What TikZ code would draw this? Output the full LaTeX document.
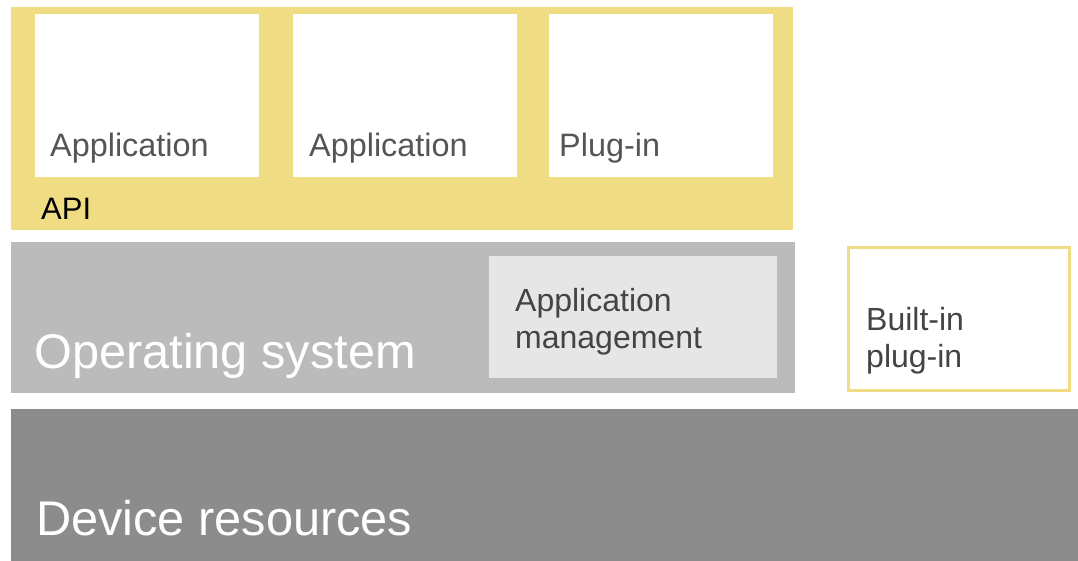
\documentclass[tikz,border=0pt]{standalone}
\usepackage{fontspec}
\setmainfont{Liberation Sans}
\definecolor{apiyellow}{RGB}{240,220,130}
\definecolor{osgray}{RGB}{187,187,187}
\definecolor{mgmtgray}{RGB}{230,230,230}
\definecolor{devgray}{RGB}{140,140,140}
\definecolor{labelgray}{RGB}{85,85,85}
\definecolor{darklabel}{RGB}{68,68,68}
\begin{document}
\begin{tikzpicture}[x=1pt,y=-1pt,
  yellowlayer/.style={fill=apiyellow, draw=none},
  whitebox/.style={fill=white, draw=none},
  lbl/.style={anchor=base west, inner sep=0pt, text=labelgray, font=\fontsize{32.4}{37}\selectfont},
  big/.style={anchor=base west, inner sep=0pt, text=white, font=\fontsize{48.7}{54}\selectfont},
  mid/.style={anchor=base west, inner sep=0pt, align=left, text=darklabel, font=\fontsize{32}{37}\selectfont}
]
\useasboundingbox (0,0) rectangle (1078,561);
\fill[white] (0,0) rectangle (1078,561);

% API layer with hosted applications
\path[yellowlayer] (11,7) rectangle (793,230);
\path[whitebox] (35,14) rectangle (259,177);
\path[whitebox] (293,14) rectangle (517,177);
\path[whitebox] (549,14) rectangle (773,177);
\node[lbl] (app1) at (50,157) {Application};
\node[lbl] (app2) at (309,157) {Application};
\node[lbl] (plug) at (559,157) {Plug-in};
\node[lbl, text=black, font=\fontsize{31}{36}\selectfont] (api) at (41,220) {API};

% Operating system layer
\fill[osgray] (11,242) rectangle (795,393);
\fill[mgmtgray] (489,256) rectangle (777,378);
\node[big] (os) at (34,368) {Operating system};
\node[mid] (mgmt) at (515,348) {Application\\management};

% Built-in plug-in
\draw[line width=3pt, draw=apiyellow, fill=white] (848.5,247.5) rectangle (1069.5,390.5);
\node[mid] (builtin) at (866,367) {Built-in\\plug-in};

% Device resources layer
\fill[devgray] (11,409) rectangle (1078,561);
\node[big] (dev) at (36,535) {Device resources};
\end{tikzpicture}
\end{document}
